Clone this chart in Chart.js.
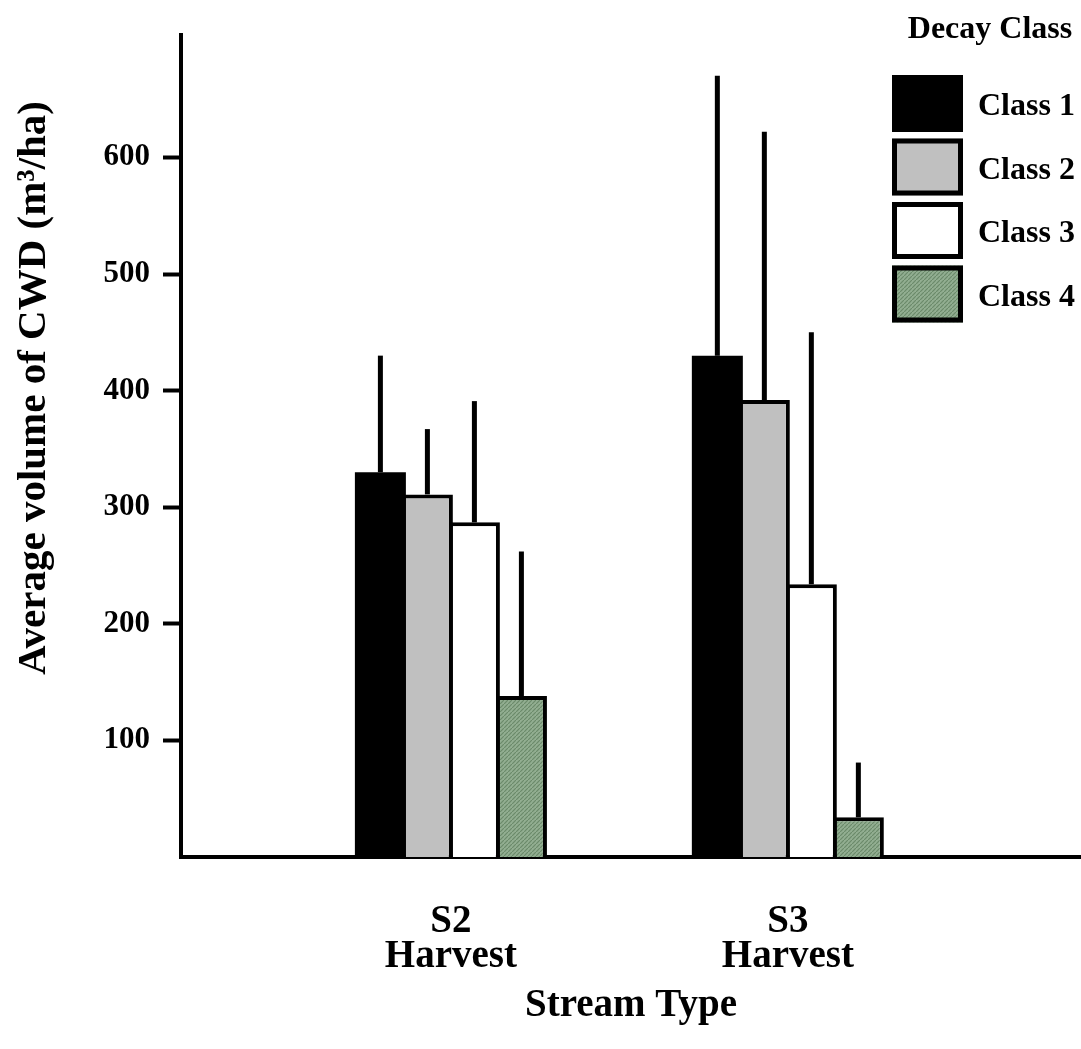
<!DOCTYPE html>
<html>
<head>
<meta charset="utf-8">
<script src="https://cdn.jsdelivr.net/npm/chart.js@4.4.1/dist/chart.umd.min.js"></script>
<style>
    html, body { margin: 0; padding: 0; background: #fff; }
    #cwdChart { display: block; }
</style>
</head>
<body>
<canvas id="cwdChart" width="1081" height="1049"></canvas>
<script>
// --- Dữ liệu ---
const streamTypes = ['S2', 'S3'];
const streamSubLabels = ['Harvest', 'Harvest'];
const streamPositions = [1, 2];
const decayClasses = ['Class 1', 'Class 2', 'Class 3', 'Class 4'];

// giá trị trung bình (m3/ha) theo S2, S3
const class1Values = [330, 430];
const class2Values = [311, 392];
const class3Values = [287, 234];
const class4Values = [138, 34];

// thanh sai số (chỉ phía trên)
const class1Errors = [100, 240];
const class2Errors = [56, 230];
const class3Errors = [104, 216];
const class4Errors = [124, 47];

const yTickValues = [100, 200, 300, 400, 500, 600];
const yMax = 705;

const FONT = '"Liberation Serif", "Times New Roman", serif';

// --- Mẫu gạch chéo màu xanh cho Class 4 ---
function makeHatch() {
    const c = document.createElement('canvas');
    c.width = 4; c.height = 4;
    const g = c.getContext('2d');
    g.fillStyle = '#92ae91';
    g.fillRect(0, 0, 4, 4);
    g.strokeStyle = '#6b8a6a';
    g.lineWidth = 1.2;
    g.beginPath();
    g.moveTo(-1, 5); g.lineTo(5, -1);
    g.stroke();
    return document.getElementById('cwdChart').getContext('2d').createPattern(c, 'repeat');
}

const classValues = [class1Values, class2Values, class3Values, class4Values];
const classErrors = [class1Errors, class2Errors, class3Errors, class4Errors];
const classFills = ['#000000', '#c0c0c0', '#ffffff', makeHatch()];
const classBorders = [0, 4, 4, 4]; // Class 1 đen đặc, không cần viền

// --- Plugin: thanh sai số ---
const errorBarPlugin = {
    id: 'errorBars',
    afterDatasetsDraw(chart) {
        const ctx = chart.ctx;
        const yScale = chart.scales.y;
        ctx.save();
        ctx.strokeStyle = '#000';
        ctx.lineWidth = 5;
        chart.data.datasets.forEach((ds, i) => {
            chart.getDatasetMeta(i).data.forEach((bar, j) => {
                const top = ds.data[j].y + ds.errors[j];
                ctx.beginPath();
                ctx.moveTo(bar.x, bar.y);
                ctx.lineTo(bar.x, yScale.getPixelForValue(top));
                ctx.stroke();
            });
        });
        ctx.restore();
    }
};

// --- Plugin: tiêu đề trục Y và chú thích ---
const decorPlugin = {
    id: 'decor',
    afterDraw(chart) {
        const ctx = chart.ctx;
        ctx.save();
        ctx.fillStyle = '#000';

        // tiêu đề trục Y
        ctx.translate(45, 388);
        ctx.rotate(-Math.PI / 2);
        ctx.font = 'bold 41px ' + FONT;
        ctx.textAlign = 'center';
        ctx.textBaseline = 'alphabetic';
        ctx.fillText('Average volume of CWD (m³/ha)', 0, 0);
        ctx.setTransform(1, 0, 0, 1, 0, 0);

        // chú thích
        const boxX = chart.width - 189;
        ctx.font = 'bold 32px ' + FONT;
        ctx.textAlign = 'center';
        ctx.textBaseline = 'middle';
        ctx.fillText('Decay Class', chart.width - 91, 30);

        ctx.textAlign = 'left';
        chart.data.datasets.forEach((ds, i) => {
            const y = 75 + i * 63.5;
            ctx.fillStyle = ds.backgroundColor;
            ctx.fillRect(boxX, y, 71, 57);
            if (i > 0) {
                ctx.strokeStyle = '#000';
                ctx.lineWidth = 5;
                ctx.strokeRect(boxX + 2.5, y + 2.5, 66, 52);
            }
            ctx.fillStyle = '#000';
            ctx.fillText(ds.label, boxX + 86, y + 32);
        });
        ctx.restore();
    }
};

new Chart(document.getElementById('cwdChart'), {
    type: 'bar',
    data: {
        datasets: decayClasses.map((name, i) => ({
            label: name,
            data: streamPositions.map((x, j) => ({ x: x, y: classValues[i][j] })),
            errors: classErrors[i],
            backgroundColor: classFills[i],
            borderColor: '#000',
            borderWidth: classBorders[i],
            categoryPercentage: 0.558,
            barPercentage: 1.085
        }))
    },
    options: {
        responsive: false,
        animation: false,
        layout: { padding: { top: 35, right: 0, left: 0, bottom: 0 } },
        plugins: {
            legend: { display: false },
            tooltip: { enabled: false }
        },
        scales: {
            x: {
                type: 'linear',
                offset: false,
                min: 0.199,
                max: 2.870,
                afterBuildTicks: (axis) => { axis.ticks = streamPositions.map(v => ({ value: v })); },
                afterFit: (axis) => { axis.height = 192; },
                grid: { display: false, offset: false },
                border: { display: true, color: '#000', width: 4 },
                ticks: {
                    color: '#000',
                    padding: 39,
                    font: { family: FONT, size: 39, weight: 'bold', lineHeight: 0.9 },
                    maxRotation: 0,
                    callback: (value, index) => [streamTypes[index], streamSubLabels[index]]
                },
                title: {
                    display: true,
                    text: 'Stream Type',
                    color: '#000',
                    font: { family: FONT, size: 39, weight: 'bold', lineHeight: 1.2 },
                    padding: { top: 0, bottom: 20 }
                }
            },
            y: {
                min: 0,
                max: yMax,
                afterBuildTicks: (axis) => { axis.ticks = yTickValues.map(v => ({ value: v })); },
                afterFit: (axis) => { axis.width = 181; },
                grid: {
                    drawOnChartArea: false,
                    drawTicks: true,
                    tickLength: 18,
                    tickWidth: 4,
                    tickColor: '#000',
                    color: '#000'
                },
                border: { display: true, color: '#000', width: 4 },
                ticks: {
                    color: '#000',
                    padding: 13,
                    font: { family: FONT, size: 31, weight: 'bold' }
                }
            }
        }
    },
    plugins: [errorBarPlugin, decorPlugin]
});
</script>
</body>
</html>
